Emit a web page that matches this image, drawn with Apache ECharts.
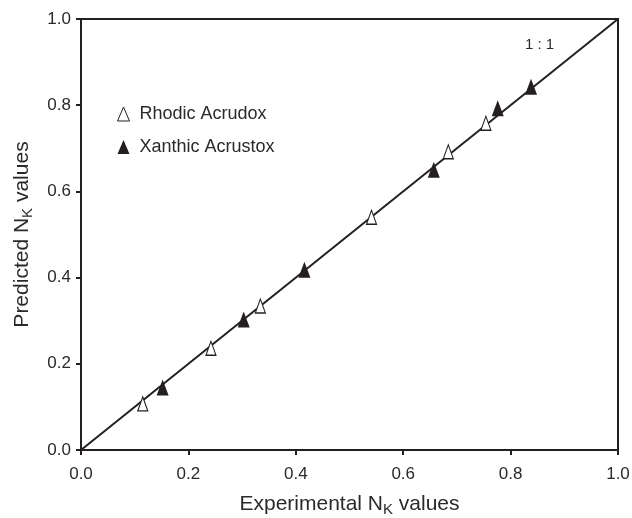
<!DOCTYPE html>
<html>
<head>
<meta charset="utf-8">
<script src="https://cdn.jsdelivr.net/npm/echarts@6/dist/echarts.min.js"></script>
<style>
  html, body { margin: 0; padding: 0; background: #fff; }
  #chart { width: 632px; height: 518px; }
</style>
</head>
<body>
<div id="chart"></div>
<script>
// measured vs predicted N_K values
const rhodicX = [0.115, 0.242, 0.334, 0.541, 0.684, 0.754]
const rhodicY = [0.107, 0.236, 0.334, 0.540, 0.692, 0.758]
const xanthicX = [0.152, 0.303, 0.416, 0.657, 0.776, 0.838]
const xanthicY = [0.145, 0.303, 0.418, 0.650, 0.793, 0.843]
const oneToOne = [[0, 0], [1, 1]]
const tickValues = [0, 0.2, 0.4, 0.6, 0.8, 1.0]

const ink = '#231f20'
const textInk = '#2a2a2a'
const font = '"Liberation Sans", Arial, sans-serif'

const mychart = echarts.init(document.getElementById('chart'))

const axisBase = (labelMargin) => ({
  type: 'value',
  min: tickValues[0],
  max: tickValues[tickValues.length - 1],
  interval: 0.2,
  splitLine: { show: false },
  axisLine: { show: true, lineStyle: { color: ink, width: 2 } },
  axisTick: { show: true, inside: false, length: 5, lineStyle: { color: ink, width: 2 } },
  axisLabel: {
    color: textInk,
    fontSize: 17,
    fontFamily: font,
    margin: labelMargin,
    formatter: v => v.toFixed(1)
  },
  nameLocation: 'middle',
  nameTextStyle: {
    color: textInk,
    fontFamily: font,
    rich: {
      a: { fontSize: 21, fontFamily: font, color: textInk },
      b: { fontSize: 15, fontFamily: font, color: textInk, padding: [10, 0, 0, 0] }
    }
  }
})

const option = {
  animation: false,
  grid: {
    left: 81, right: 14, top: 19, bottom: 68,
    outerBoundsMode: 'none',
    containLabel: false,
    show: true,
    borderColor: ink,
    borderWidth: 2
  },
  legend: {
    orient: 'vertical',
    left: 117,
    top: 105,
    padding: 0,
    itemWidth: 12,
    itemHeight: 14,
    itemGap: 15,
    textStyle: { color: textInk, fontSize: 18, fontFamily: font, padding: [0, 0, 0, 5] },
    data: [
      { name: 'Rhodic Acrudox', icon: 'triangle', itemStyle: { color: '#fff', borderColor: ink, borderWidth: 1 } },
      { name: 'Xanthic Acrustox', icon: 'triangle', itemStyle: { color: ink } }
    ]
  },
  xAxis: Object.assign(axisBase(16), {
    name: '{a|Experimental N}{b|K}{a| values}',
    nameGap: 42
  }),
  yAxis: Object.assign(axisBase(10), {
    name: '{a|Predicted N}{b|K}{a| values}',
    nameGap: 46
  }),
  graphic: [{
    type: 'text',
    left: 525,
    top: 37,
    style: { text: '1 : 1', fill: textInk, font: '15px ' + font }
  }],
  series: [
    {
      name: '1:1',
      type: 'line',
      data: oneToOne,
      showSymbol: false,
      lineStyle: { color: ink, width: 2 },
      z: 1
    },
    {
      name: 'Rhodic Acrudox',
      type: 'scatter',
      symbol: 'triangle',
      symbolSize: [10, 14],
      data: rhodicX.map((x, i) => [x, rhodicY[i]]),
      itemStyle: { color: '#fff', borderColor: ink, borderWidth: 1.2, opacity: 1 },
      z: 3
    },
    {
      name: 'Xanthic Acrustox',
      type: 'scatter',
      symbol: 'triangle',
      symbolSize: [12, 16],
      data: xanthicX.map((x, i) => [x, xanthicY[i]]),
      itemStyle: { color: ink, opacity: 1 },
      z: 3
    }
  ]
}

mychart.setOption(option, true)
</script>
</body>
</html>
